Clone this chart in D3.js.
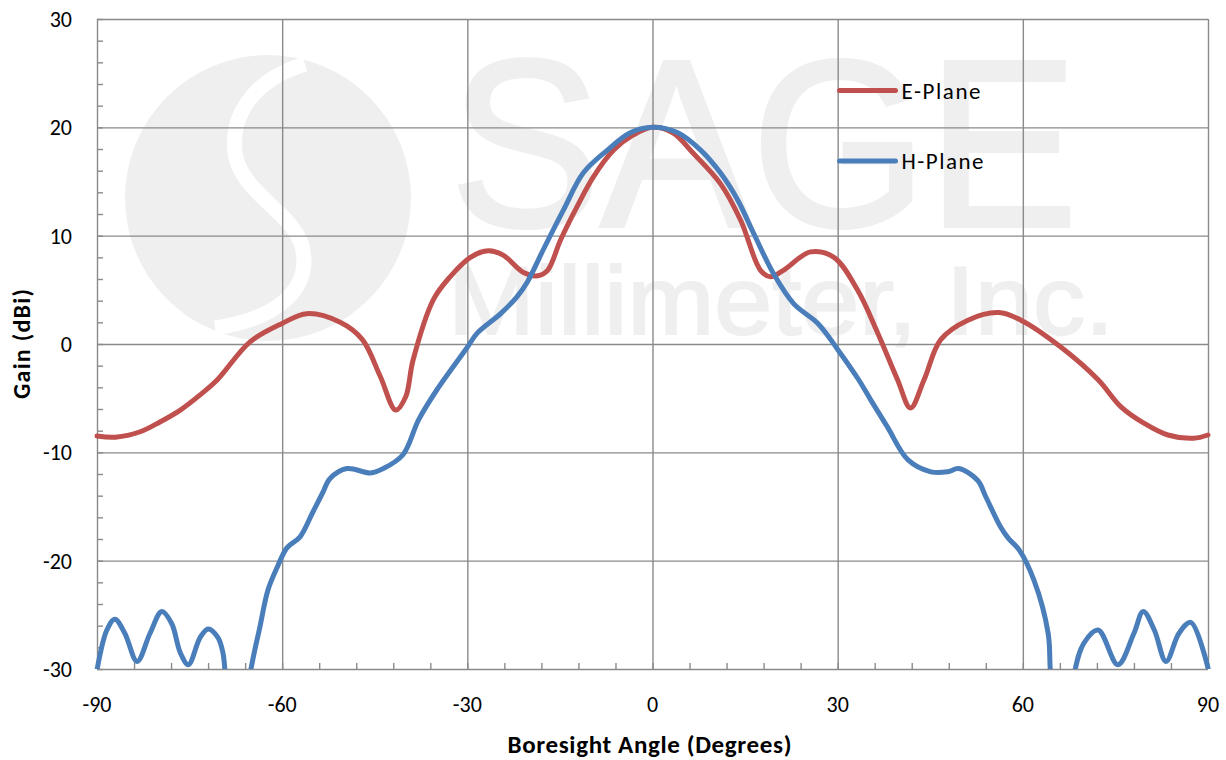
<!DOCTYPE html>
<html>
<head>
<meta charset="utf-8">
<script src="https://cdn.jsdelivr.net/npm/d3@7"></script>
<style>
  html, body { margin: 0; padding: 0; background: #fff; }
  svg text { font-family: Calibri, Carlito, Lato, sans-serif; fill: #000; }
  .grid line { stroke: #8a8a8a; stroke-width: 1.4; }
  .grid path { display: none; }
  .minor line { stroke: #8a8a8a; stroke-width: 1.4; }
  .minor path { display: none; }
  .minor text { display: none; }
  .series { fill: none; stroke-width: 5; stroke-linejoin: round; stroke-linecap: round; }
</style>
</head>
<body>
<div id="chart"></div>
<script>
// 축 눈금
const xMajor = [-90, -60, -30, 0, 30, 60, 90];
const xMinor = d3.range(-90, 91, 6);
const yMajor = [-30, -20, -10, 0, 10, 20, 30];
const yMinor = d3.range(-30, 31, 2);

// E-Plane (각도, 이득 dBi)
const eAngle = [-90, -87, -83, -79.8, -76.5, -73.3, -70.5, -65.2, -60, -56, -50.6, -47, -44.1, -41.6, -40, -38.8, -35.5, -32.8, -29.5, -26.6, -24.2, -20.9, -18.6, -17, -14.9, -12.2, -9.6, -6.3, -3.1, 0,
  3.3, 6.6, 11, 14.3, 17.5, 19.1, 21.2, 25.6, 29.4, 33.2, 36.5, 39.7, 41.8, 44, 46.7, 51.1, 56.1, 59.7, 66.2, 72.2, 75.9, 79.6, 83.5, 87.7, 90];
const eGain = [-8.5, -8.6, -8.1, -7.2, -6.1, -4.7, -3.3, 0.2, 1.9, 2.8, 2.0, 0.4, -3.0, -6.1, -4.9, -1.5, 4.1, 6.2, 8.0, 8.6, 8.2, 6.6, 6.3, 6.8, 9.6, 12.7, 15.4, 17.9, 19.3, 20.0,
  19.5, 17.6, 14.8, 11.4, 6.8, 6.2, 6.8, 8.5, 8.0, 5.0, 1.0, -3.3, -5.9, -3.3, 0.4, 2.2, 2.9, 2.2, -0.3, -3.3, -5.8, -7.3, -8.4, -8.7, -8.4];

// H-Plane
const hAngle = [-90, -88.4, -87.1, -85.5, -83.5, -81.4, -79.5, -77.9, -76.5, -75.2, -73.3, -72, -70.4, -69.6, -69.2, -67.2, -65.2, -63.6, -62.3, -60.8, -59.2, -57.1, -55.1, -53.5, -52.2, -49.5, -45.7, -43.6, -40.4, -37.9, -34.9, -30, -28.4, -24.6, -21.9, -20.3, -17.7, -14.4, -11.2, -7.3, -3.6, 0,
  4.1, 7.8, 11, 13.8, 16.4, 19.6, 22.9, 26.8, 30, 33.4, 35.4, 38.1, 41.4, 45.1, 47.8, 49.6, 52.7, 54, 56.4, 57.6, 59.4, 61.8, 64.1, 64.5, 66.4, 68.3, 69.9, 72.2, 75.4, 78, 79.5, 81.3, 83.2, 85.3, 87.2, 90];
const hGain = [-30.1, -26.4, -25.4, -26.7, -29.3, -26.7, -24.7, -25.8, -28.5, -29.6, -27.1, -26.3, -27.1, -28.5, -30.5, -40, -30.5, -26.1, -22.7, -20.6, -18.8, -17.8, -15.6, -13.8, -12.4, -11.5, -11.9, -11.5, -10.2, -7.0, -4.2, -0.3, 1.0, 2.8, 4.4, 5.7, 8.7, 12.4, 15.8, 17.9, 19.5, 20.0,
  19.5, 17.9, 15.8, 13.3, 10.2, 6.5, 3.7, 1.9, -0.5, -3.3, -5.2, -7.7, -10.7, -11.8, -11.8, -11.5, -12.6, -14.1, -16.9, -17.9, -19.0, -21.8, -26.7, -30.5, -40, -30.5, -27.6, -26.4, -29.6, -26.7, -24.7, -26.4, -29.3, -26.7, -25.7, -29.9];

const seriesNames = ["E-Plane", "H-Plane"];
const seriesColors = ["#C0504D", "#4A7EBB"];

(() => {
  const W = 1226, H = 760;
  const margin = { top: 19, right: 18, bottom: 91, left: 97 };
  const width = W - margin.left - margin.right;
  const height = H - margin.top - margin.bottom;

  const root = d3.select("#chart").append("svg")
    .attr("width", W).attr("height", H)
    .attr("viewBox", `0 0 ${W} ${H}`);

  // === 워터마크 (배경)
  const wm = root.append("g").attr("class", "watermark");
  wm.append("circle").attr("cx", 268).attr("cy", 198).attr("r", 143).attr("fill", "#efefef");
  wm.append("path")
    .attr("d", "M305,64 C252,80 228,118 236,158 C246,196 292,212 302,246 C312,286 282,318 215,328")
    .attr("fill", "none").attr("stroke", "#fff").attr("stroke-width", 15);
  wm.append("text").attr("x", 450).attr("y", 226)
    .attr("textLength", 628).attr("lengthAdjust", "spacingAndGlyphs")
    .style("font-family", "'Liberation Sans', Arial, sans-serif").style("font-size", "238px")
    .style("fill", "#efefef").style("stroke", "#efefef").style("stroke-width", 4)
    .text("SAGE");
  wm.append("text").attr("x", 448).attr("y", 334)
    .attr("textLength", 666).attr("lengthAdjust", "spacingAndGlyphs")
    .style("font-family", "'Liberation Sans', Arial, sans-serif").style("font-size", "96px")
    .style("fill", "#efefef").style("stroke", "#efefef").style("stroke-width", 2)
    .text("Millimeter, Inc.");

  const svg = root.append("g").attr("transform", `translate(${margin.left},${margin.top})`);

  const x = d3.scaleLinear().domain([-90, 90]).range([0, width]);
  const y = d3.scaleLinear().domain([-30, 30]).range([height, 0]);

  // === 그리드
  svg.append("g").attr("class", "grid")
    .call(d3.axisLeft(y).tickValues(yMajor).tickSize(-width).tickFormat(""));
  svg.append("g").attr("class", "grid").attr("transform", `translate(0,${height})`)
    .call(d3.axisBottom(x).tickValues(xMajor).tickSize(-height).tickFormat(""));

  // === 보조 눈금 (안쪽)
  svg.append("g").attr("class", "minor")
    .call(d3.axisLeft(y).tickValues(yMinor).tickSize(-6));
  svg.append("g").attr("class", "minor").attr("transform", `translate(0,${height})`)
    .call(d3.axisBottom(x).tickValues(xMinor).tickSize(-6));

  // === 눈금 라벨
  svg.append("g").selectAll("text").data(yMajor).join("text")
    .attr("x", -25).attr("y", d => y(d)).attr("dy", "0.36em")
    .attr("text-anchor", "end").style("font-size", "22px").text(d => d);
  svg.append("g").selectAll("text").data(xMajor).join("text")
    .attr("x", d => x(d)).attr("y", height + 43)
    .attr("text-anchor", "middle").style("font-size", "22px").text(d => d);

  // === 축 제목
  svg.append("text").attr("x", width / 2 - 3).attr("y", height + 84)
    .attr("text-anchor", "middle").style("font-size", "25px").style("font-weight", "bold")
    .attr("textLength", 284).attr("lengthAdjust", "spacing")
    .text("Boresight Angle (Degrees)");
  svg.append("text").attr("transform", `translate(${-67},${height / 2}) rotate(-90)`)
    .attr("text-anchor", "middle").style("font-size", "24px").style("font-weight", "bold")
    .attr("textLength", 110).attr("lengthAdjust", "spacing")
    .text("Gain (dBi)");

  // === 라인
  root.append("defs").append("clipPath").attr("id", "plotClip")
    .append("rect").attr("x", -3).attr("y", 0).attr("width", width + 6).attr("height", height);

  const line = d3.line().curve(d3.curveCatmullRom.alpha(0.5)).x(d => x(d[0])).y(d => y(d[1]));
  const eData = eAngle.map((a, i) => [a, eGain[i]]);
  const hData = hAngle.map((a, i) => [a, hGain[i]]);

  const plot = svg.append("g").attr("clip-path", "url(#plotClip)");
  [eData, hData].forEach((data, i) => {
    plot.append("path").datum(data).attr("class", "series")
      .attr("stroke", seriesColors[i]).attr("d", line);
  });

  // === 범례
  const legend = svg.append("g").attr("transform", `translate(${x(30.3)},${y(23.4)})`);
  seriesNames.forEach((name, i) => {
    const g = legend.append("g").attr("transform", `translate(0,${i * 70.5})`);
    g.append("line").attr("x1", 0).attr("x2", 56).attr("y1", 0).attr("y2", 0)
      .attr("stroke", seriesColors[i]).attr("stroke-width", 5).attr("stroke-linecap", "round");
    g.append("text").attr("x", 62).attr("y", 0).attr("dy", "0.36em")
      .style("font-size", "23px").attr("textLength", 79 + i * 3).attr("lengthAdjust", "spacing")
      .text(name);
  });
})();
</script>
</body>
</html>
